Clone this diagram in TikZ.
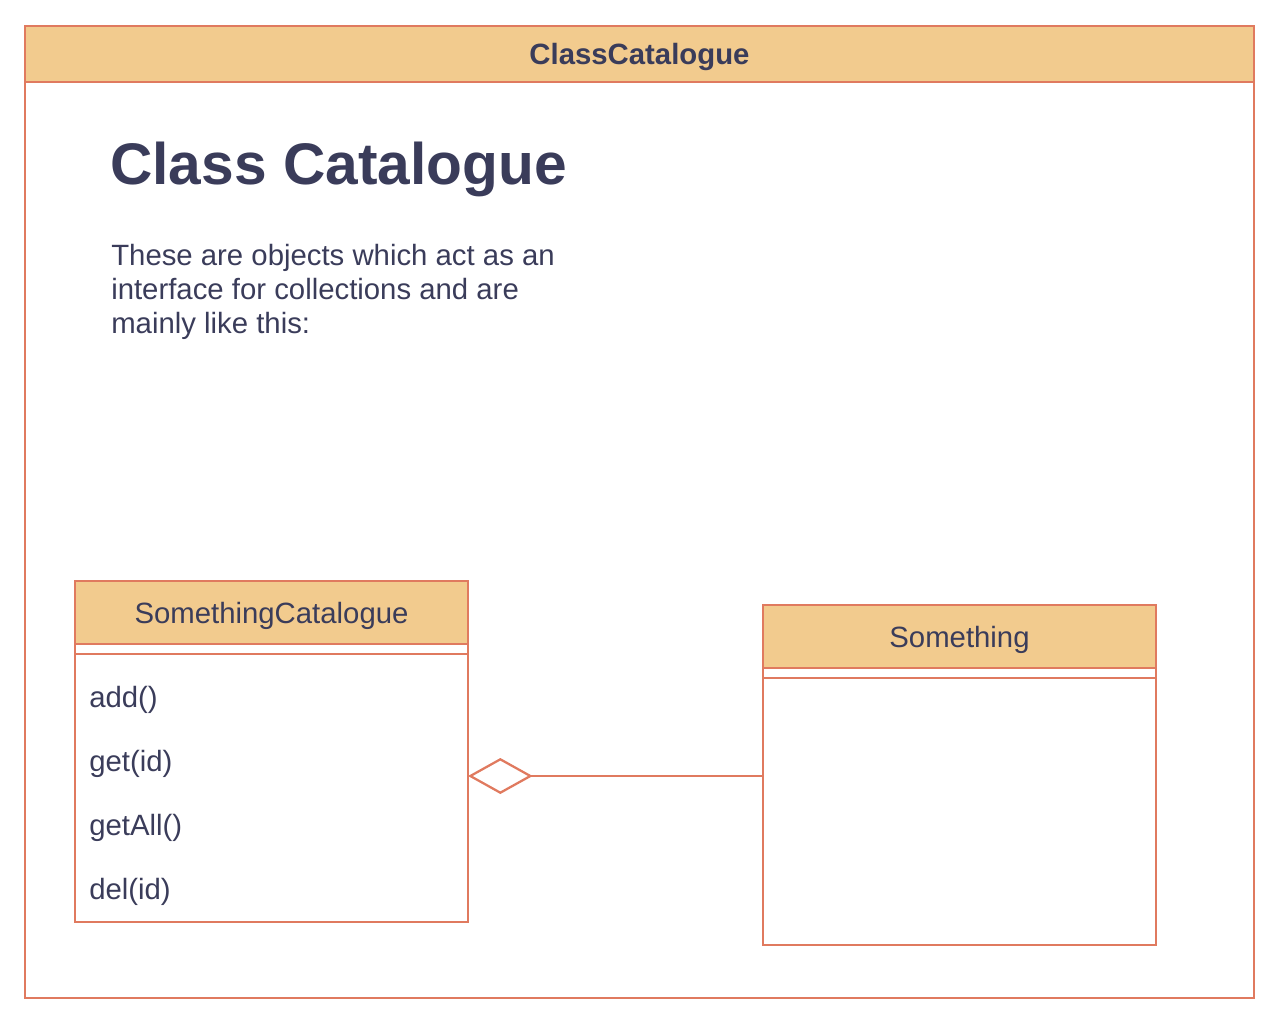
\documentclass[tikz,border=0pt]{standalone}
\usepackage{fontspec}
\setmainfont{Liberation Sans}
\usetikzlibrary{positioning,arrows.meta}
\definecolor{umlfill}{HTML}{F2CB8E}
\definecolor{umlline}{HTML}{E07A5F}
\definecolor{umltext}{HTML}{3A3C5A}

\begin{document}
\begin{tikzpicture}[x=0.75pt, y=-0.75pt, node distance=0pt,
					every node/.style={text=umltext, font=\fontsize{22}{25.5}\selectfont},
					head/.style={draw=umlline, fill=umlfill, line width=1.7pt, rectangle, minimum width=393*0.75pt, minimum height=63*0.75pt, inner sep=0pt, outer sep=0pt, text depth=0pt},
					strip/.style={draw=umlline, line width=1.7pt, rectangle, minimum width=393*0.75pt, minimum height=10*0.75pt, inner sep=0pt, outer sep=0pt},
					body/.style={draw=umlline, line width=1.7pt, rectangle, minimum width=393*0.75pt, inner sep=0pt, outer sep=0pt},
					method/.style={anchor=base west, inner sep=0pt},
					agg/.style={{Diamond[open, length=48.5pt, width=27pt]}-, draw=umlline, line width=1.7pt}]
					\useasboundingbox (0,0) rectangle (1280,1024);
					% frame
					\node[head, minimum width=1229*0.75pt, minimum height=56*0.75pt, anchor=north west, font=\bfseries\fontsize{22}{25.5}\selectfont] (frameHead) at (25,26) {ClassCatalogue};
					\node[body, minimum width=1229*0.75pt, minimum height=916*0.75pt, below=of frameHead] (frameBody) {};
					\node[anchor=base west, inner sep=0pt, font=\bfseries\fontsize{44}{50}\selectfont] (title) at (110,184) {Class Catalogue};
					\node[anchor=base west, inner sep=0pt, align=left] (intro) at (111,333) {These are objects which act as an\\interface for collections and are\\mainly like this:};
					% SomethingCatalogue
					\node[head, anchor=north west] (catHead) at (75,581) {SomethingCatalogue};
					\node[strip, below=of catHead] (catAttr) {};
					\node[body, minimum height=268*0.75pt, below=of catAttr] (catBody) {};
					\node[method] (mAdd) at (89,707) {add()};
					\node[method] (mGet) at (89,771) {get(id)};
					\node[method] (mGetAll) at (89,835) {getAll()};
					\node[method] (mDel) at (89,899) {del(id)};
					% Something
					\node[head, anchor=north west] (thingHead) at (763,605) {Something};
					\node[strip, below=of thingHead] (thingAttr) {};
					\node[body, minimum height=267*0.75pt, below=of thingAttr] (thingBody) {};
					\coordinate (aggY) at (0,776);
					\draw[agg] (catBody.east |- aggY) -- (thingBody.west |- aggY);
				\end{tikzpicture}
\end{document}
